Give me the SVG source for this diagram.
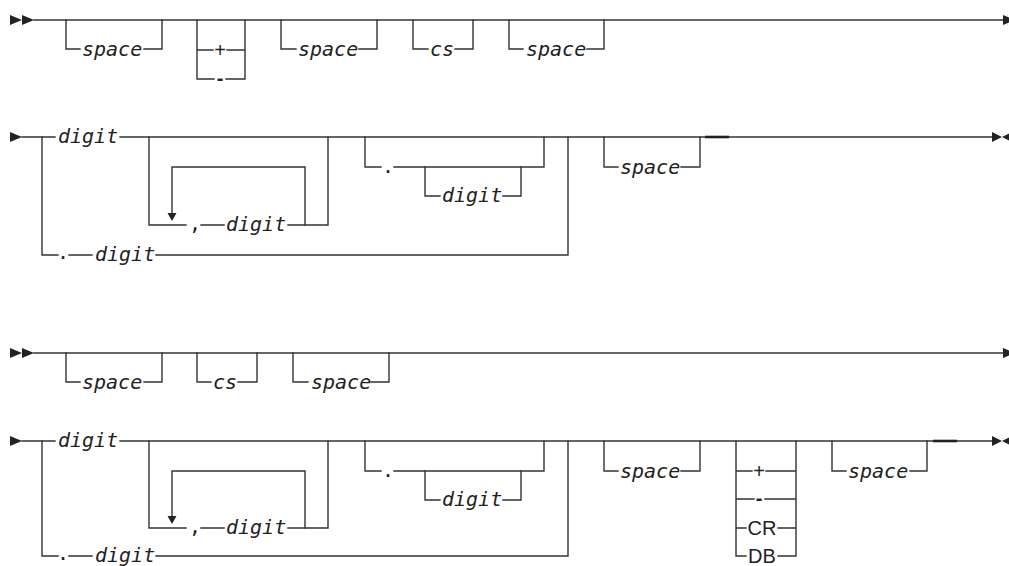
<svg xmlns="http://www.w3.org/2000/svg" xmlns:xlink="http://www.w3.org/1999/xlink" width="1009" height="566" viewBox="0 0 1009 566">
<style>
.ln{fill:none;stroke:#333;stroke-width:1.4;stroke-linecap:square;stroke-linejoin:miter}
.dk{fill:none;stroke:#222;stroke-width:2.6}
.v{font-family:"DejaVu Sans Mono","Liberation Mono",monospace;font-style:italic;font-size:20px;fill:#222}
.p{font-family:"DejaVu Sans Mono","Liberation Mono",monospace;font-size:20px;fill:#222}
.k{font-family:"Liberation Sans",Arial,sans-serif;font-size:20px;fill:#222;text-anchor:middle}
.m{font-family:"Liberation Sans",Arial,sans-serif;font-size:20px;font-weight:bold;fill:#222;text-anchor:middle}
.ar{fill:#222}
</style>
<defs>
<polygon id="tri" points="0,-5 12,0 0,5"/>
<polygon id="tri2" points="0,-5 10,0 0,5"/>
<polygon id="tl" points="8,-4 0,0 8,4"/>
<polygon id="td" points="-4.5,0 4.5,0 0,8"/>
</defs>
<g id="connectors">
<path class="ln" d="M34,20 H1003"/>
<path class="ln" d="M66,20 V49 H80 M144,49 H162 V20"/>
<path class="ln" d="M197,20 V79 H214 M197,50 H213 M227,50 H245 M226,79 H245 V20"/>
<path class="ln" d="M281,20 V49 H296 M359,49 H377 V20"/>
<path class="ln" d="M413,20 V49 H428 M455,49 H473 V20"/>
<path class="ln" d="M509,20 V49 H523 M587,49 H604 V20"/>
<path class="ln" d="M22,137 H55 M120,137 H992"/>
<path class="ln" d="M42,137 V255 H58 M69,255 H92 M156,255 H568 V137"/>
<path class="ln" d="M149,137 V225 H186 M201,225 H224 M288,225 H328 V137"/>
<path class="ln" d="M305,225 V167 H172 V213"/>
<path class="ln" d="M365,137 V167 H381 M394,167 H544 V137"/>
<path class="ln" d="M425,167 V196 H440 M503,196 H521 V167"/>
<path class="ln" d="M604,137 V167 H618 M681,167 H700 V137"/>
<path class="dk" d="M705,137 H729"/>
<path class="ln" d="M34,353 H1003"/>
<path class="ln" d="M66,353 V382 H80 M144,382 H162 V353"/>
<path class="ln" d="M197,353 V382 H211 M238,382 H257 V353"/>
<path class="ln" d="M293,353 V382 H308 M371,382 H389 V353"/>
<path class="ln" d="M22,441 H55 M120,441 H992"/>
<path class="ln" d="M42,441 V556 H58 M69,556 H92 M156,556 H568 V441"/>
<path class="ln" d="M149,441 V528 H186 M201,528 H224 M288,528 H328 V441"/>
<path class="ln" d="M305,528 V471 H172 V516"/>
<path class="ln" d="M365,441 V471 H381 M394,471 H544 V441"/>
<path class="ln" d="M425,471 V500 H440 M503,500 H521 V471"/>
<path class="ln" d="M604,441 V471 H618 M681,471 H700 V441"/>
<path class="ln" d="M736,441 V556 H746 M736,471 H752 M766,471 H796 M736,499 H754 M765,499 H796 M736,528 H746 M778,528 H796 M778,556 H796 V441"/>
<path class="ln" d="M832,441 V471 H846 M910,471 H927 V441"/>
<path class="dk" d="M933,441 H957"/>
<g class="ar">
<use xlink:href="#tri" x="10" y="20"/><use xlink:href="#tri" x="22" y="20"/>
<use xlink:href="#tri" x="1003" y="20"/>
<use xlink:href="#tri" x="10" y="137"/>
<use xlink:href="#tri2" x="992" y="137"/><use xlink:href="#tl" x="1002" y="137"/>
<use xlink:href="#td" x="172" y="213"/>
<use xlink:href="#tri" x="10" y="353"/><use xlink:href="#tri" x="22" y="353"/>
<use xlink:href="#tri" x="1003" y="353"/>
<use xlink:href="#tri" x="10" y="441"/>
<use xlink:href="#tri2" x="992" y="441"/><use xlink:href="#tl" x="1002" y="441"/>
<use xlink:href="#td" x="172" y="516"/>
</g>
</g>
<g id="r1-space1"><text class="v" x="82" y="56">space</text></g>
<g id="r1-plus"><text class="k" x="220" y="57">+</text></g>
<g id="r1-minus"><text class="m" x="220" y="85">-</text></g>
<g id="r1-space2"><text class="v" x="298" y="56">space</text></g>
<g id="r1-cs"><text class="v" x="430" y="56">cs</text></g>
<g id="r1-space3"><text class="v" x="526" y="56">space</text></g>
<g id="r2-digit"><text class="v" x="58" y="143">digit</text></g>
<g id="r2-dot"><text class="p" x="57" y="259">.</text></g>
<g id="r2-digit-low"><text class="v" x="95" y="261">digit</text></g>
<g id="r2-comma"><text class="p" x="189" y="230">,</text></g>
<g id="r2-digit-rep"><text class="v" x="226" y="231">digit</text></g>
<g id="r2-dot2"><text class="p" x="382" y="173">.</text></g>
<g id="r2-digit-frac"><text class="v" x="442" y="202">digit</text></g>
<g id="r2-space"><text class="v" x="620" y="174">space</text></g>
<g id="r3-space1"><text class="v" x="82" y="389">space</text></g>
<g id="r3-cs"><text class="v" x="213" y="389">cs</text></g>
<g id="r3-space2"><text class="v" x="311" y="389">space</text></g>
<g id="r4-digit"><text class="v" x="58" y="447">digit</text></g>
<g id="r4-dot"><text class="p" x="57" y="560">.</text></g>
<g id="r4-digit-low"><text class="v" x="95" y="562">digit</text></g>
<g id="r4-comma"><text class="p" x="189" y="533">,</text></g>
<g id="r4-digit-rep"><text class="v" x="226" y="534">digit</text></g>
<g id="r4-dot2"><text class="p" x="382" y="477">.</text></g>
<g id="r4-digit-frac"><text class="v" x="442" y="506">digit</text></g>
<g id="r4-space1"><text class="v" x="620" y="478">space</text></g>
<g id="r4-plus"><text class="k" x="759" y="478">+</text></g>
<g id="r4-minus"><text class="m" x="759" y="505">-</text></g>
<g id="r4-cr"><text class="k" x="762" y="535">CR</text></g>
<g id="r4-db"><text class="k" x="762" y="563">DB</text></g>
<g id="r4-space2"><text class="v" x="848" y="478">space</text></g>
</svg>
